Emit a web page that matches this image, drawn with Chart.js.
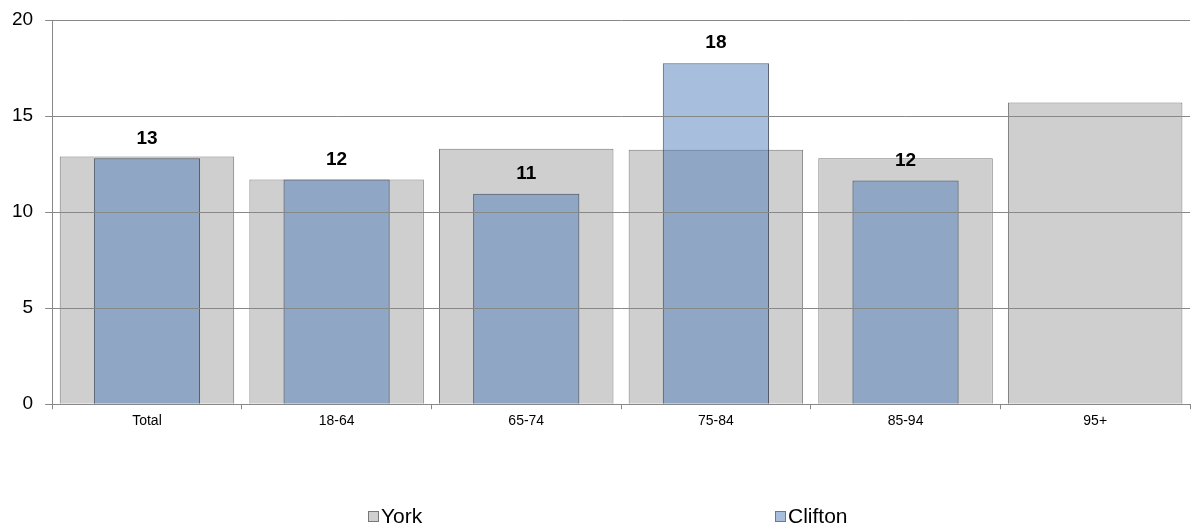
<!DOCTYPE html>
<html>
<head>
<meta charset="utf-8">
<script src="https://cdn.jsdelivr.net/npm/chart.js@4/dist/chart.umd.min.js"></script>
<style>
  body { margin: 0; background: #fff; font-family: "Liberation Sans", Arial, sans-serif; }
  #wrap { position: relative; width: 1191px; height: 529px; }
  .legend-item { position: absolute; top: 504px; font-size: 21px; color: #000; display: flex; align-items: center; }
  .legend-box { width: 9px; height: 9px; border: 1px solid #777; margin-right: 2px; }
</style>
</head>
<body>
<div id="wrap">
  <canvas id="chart" width="1191" height="529"></canvas>
  <div class="legend-item" style="left:368px;"><span class="legend-box" style="background:#cfcfcf;"></span>York</div>
  <div class="legend-item" style="left:775px;"><span class="legend-box" style="background:#a7bfdd;"></span>Clifton</div>
</div>
<script>
// Chart data
const categories = ['Total', '18-64', '65-74', '75-84', '85-94', '95+'];
const yorkValues = [12.9, 11.7, 13.3, 13.25, 12.8, 15.7];
const cliftonValues = [12.8, 11.7, 10.95, 17.75, 11.65, null];
const yTicks = [0, 5, 10, 15, 20];

// Draw rounded value labels above the Clifton bars
const valueLabels = {
    id: 'valueLabels',
    afterDatasetsDraw(chart) {
        const ctx = chart.ctx;
        const meta = chart.getDatasetMeta(1);
        ctx.save();
        ctx.font = 'bold 19px "Liberation Sans", Arial, sans-serif';
        ctx.fillStyle = '#000';
        ctx.textAlign = 'center';
        ctx.textBaseline = 'middle';
        meta.data.forEach((bar, i) => {
            const v = cliftonValues[i];
            if (v === null) return;
            ctx.fillText(Math.round(v), bar.x, bar.y - 20);
        });
        ctx.restore();
    }
};

const ctx = document.getElementById('chart').getContext('2d');
const chart = new Chart(ctx, {
    type: 'bar',
    data: {
        labels: categories,
        datasets: [{
            label: 'York',
            data: yorkValues,
            backgroundColor: '#cfcfcf',
            borderColor: '#787878',
            borderWidth: 1,
            barPercentage: 0.92,
            categoryPercentage: 1,
            order: 2
        }, {
            label: 'Clifton',
            data: cliftonValues,
            backgroundColor: 'rgba(79, 127, 187, 0.5)',
            borderColor: 'rgba(50, 60, 80, 0.8)',
            borderWidth: 1,
            barPercentage: 0.56,
            categoryPercentage: 1,
            order: 1
        }]
    },
    options: {
        responsive: false,
        animation: false,
        grouped: false,
        layout: { padding: { left: 0, right: 1, top: 20, bottom: 95 } },
        plugins: {
            legend: { display: false },
            tooltip: { enabled: false }
        },
        scales: {
            x: {
                grid: {
                    offset: true,
                    drawOnChartArea: false,
                    drawTicks: true,
                    tickLength: 5,
                    color: '#888'
                },
                border: { color: '#888' },
                ticks: {
                    color: '#000',
                    padding: 4,
                    font: { family: '"Liberation Sans", Arial, sans-serif', size: 14 }
                }
            },
            y: {
                min: yTicks[0],
                max: yTicks[yTicks.length - 1],
                grid: {
                    color: '#888',
                    tickLength: 7,
                    z: 1
                },
                // keep the axis line in the same layer as the grid so its position is known
                border: { color: '#888', z: 1 },
                ticks: {
                    stepSize: yTicks[1] - yTicks[0],
                    color: '#000',
                    padding: 12,
                    font: { family: '"Liberation Sans", Arial, sans-serif', size: 19, lineHeight: 0.8 }
                }
            }
        }
    },
    plugins: [valueLabels]
});
</script>
</body>
</html>
